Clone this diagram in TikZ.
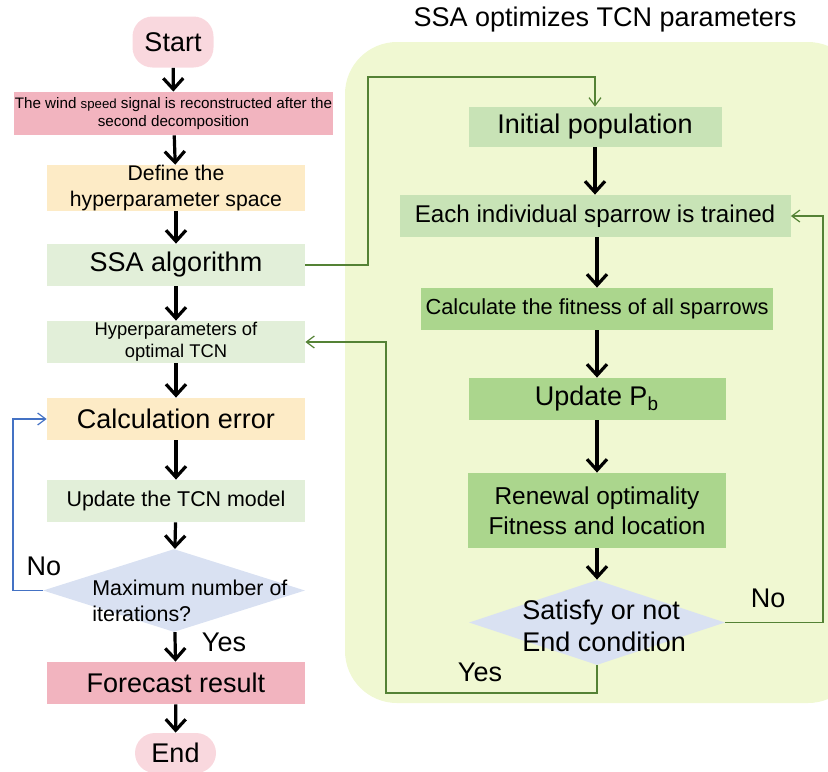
\documentclass[tikz,border=0pt]{standalone}
\usepackage{fontspec}
\setmainfont{Liberation Sans}
\usetikzlibrary{positioning}
\usetikzlibrary{arrows.meta}
\usetikzlibrary{shapes.geometric}
\definecolor{pinkdark}{HTML}{F2B4BF}
\definecolor{pinklight}{HTML}{F9D8DE}
\definecolor{yellowlight}{HTML}{FDEBC6}
\definecolor{greenpale}{HTML}{E2EFD9}
\definecolor{greenlight}{HTML}{C8E3B6}
\definecolor{greenmid}{HTML}{ABD68D}
\definecolor{bluelight}{HTML}{D9E1F2}
\definecolor{groupbg}{HTML}{F0F8D2}
\definecolor{linegreen}{HTML}{548235}
\definecolor{lineblue}{HTML}{4472C4}
\tikzset{
        flowbox/.style={align=center,inner sep=0pt},
        % Start and end
        node_terminal/.style={flowbox, rectangle, rounded corners=10pt, fill=pinklight, minimum width=40.5pt, font=\fontsize{13.5}{16}\selectfont},
        % Process steps
        node_step/.style={flowbox, rectangle, minimum width=129pt, minimum height=21pt},
        % Decisions
        node_decision/.style={diamond, inner sep=0pt, fill=bluelight},
        % Text sizes
        txt_big/.style={font=\fontsize{13.5}{16}\selectfont},
        txt_mid/.style={font=\fontsize{10.7}{13}\selectfont},
        % Connectors
        flow/.style={-{Straight Barb[length=5.5pt,width=10pt]}, line width=1.6pt, black},
        loop_green/.style={-{Straight Barb[length=4pt,width=6pt]}, line width=0.6pt, linegreen},
        loop_blue/.style={-{Straight Barb[length=4pt,width=6pt]}, line width=0.6pt, lineblue}
}
\begin{document}
\begin{tikzpicture}[x=0.5pt, y=-0.5pt]
    \useasboundingbox (0,0) rectangle (828,771);
    % group of the SSA loop
    \fill[groupbg, rounded corners=26pt] (345,42) rectangle (860,703);
    \node[txt_big] (group_title) at (605,20) {SSA optimizes TCN parameters};

    % left column
    \node[node_terminal, minimum height=25.5pt] (start) at (173,42) {Start};
    \node[node_step, fill=pinkdark, minimum width=159.5pt, minimum height=21.5pt,
          font=\fontsize{7.6}{8.6}\selectfont] (wind) at (173.5,113.5)
          {The wind {\fontsize{6.6}{8}\selectfont speed} signal is reconstructed after the\\second decomposition};
    \node[node_step, fill=yellowlight, font=\fontsize{10.6}{13}\selectfont] (define) at (176,188) {Define the\\hyperparameter space};
    \node[node_step, fill=greenpale, txt_big] (ssa) at (176,265) {SSA algorithm};
    \node[node_step, fill=greenpale, font=\fontsize{9.2}{11}\selectfont] (hyper) at (176,342) {Hyperparameters of\\optimal TCN};
    \node[node_step, fill=yellowlight, txt_big] (calc) at (176,419) {Calculation error};
    \node[node_step, fill=greenpale, txt_mid] (update) at (176,501) {Update the TCN model};
    \node[node_decision, minimum width=131pt, minimum height=41.5pt] (maxit) at (174,590.5) {};
    \node[txt_mid, align=left, anchor=west, inner sep=0pt] (maxit_txt) at (92,601) {Maximum number of\\iterations?};
    \node[node_step, fill=pinkdark, txt_big] (forecast) at (176,683) {Forecast result};
    \node[node_terminal, minimum height=20pt] (end) at (175.5,753) {End};

    % right column
    \node[node_step, fill=greenlight, minimum width=126.5pt, minimum height=20pt, txt_big] (init) at (595,127) {Initial population};
    \node[node_step, fill=greenlight, minimum width=195.5pt, font=\fontsize{12.1}{14}\selectfont] (each) at (595,216) {Each individual sparrow is trained};
    \node[node_step, fill=greenmid, minimum width=176pt, font=\fontsize{10.9}{13}\selectfont] (fit) at (597,309) {Calculate the fitness of all sparrows};
    \node[node_step, fill=greenmid, minimum width=128.5pt, txt_big] (pb) at (597,399) {Update P\textsubscript{b}};
    \node[node_step, fill=greenmid, minimum height=37.5pt, font=\fontsize{12.2}{15}\selectfont] (renew) at (597,510.5) {Renewal optimality\\Fitness and location};
    \node[node_decision, minimum width=128pt, minimum height=42.5pt] (satisfy) at (597,622.5) {};
    \node[txt_big, align=left, anchor=west, inner sep=0pt] (satisfy_txt) at (522,626) {Satisfy or not\\End condition};

    % labels
    \node[txt_big] (no_left) at (44,566) {No};
    \node[txt_big] (yes_left) at (224,642) {Yes};
    \node[txt_big] (no_right) at (768,598) {No};
    \node[txt_big] (yes_right) at (480,672) {Yes};

    % main flow
    \draw[flow] (start) -- (wind);
    \draw[flow] (wind) -- (define);
    \draw[flow] (define) -- (ssa);
    \draw[flow] (ssa) -- (hyper);
    \draw[flow] (hyper) -- (calc);
    \draw[flow] (calc) -- (update);
    \draw[flow] (update) -- (maxit);
    \draw[flow] (maxit) -- (forecast);
    \draw[flow] (forecast) -- (end);
    \draw[flow] (init) -- (each);
    \draw[flow] (each.south -| fit) -- (fit);
    \draw[flow] (fit) -- (pb);
    \draw[flow] (pb) -- (renew);
    \draw[flow] (renew) -- (satisfy);

    % loops
    \coordinate (ssa_turn) at (368,77);
    \coordinate (yes_turn) at (386,693);
    \coordinate (no_turn) at (823,622.5);
    \coordinate (err_turn) at (13,590.5);
    \draw[loop_green] (ssa.east) -| (ssa_turn) -| (init.north);
    \draw[loop_green] (satisfy.south) |- (yes_turn) |- (hyper.east);
    \draw[loop_green] (satisfy.east) -- (no_turn) |- (each.east);
    \draw[loop_blue] (maxit.west) -- (err_turn) |- (calc.west);
\end{tikzpicture}
\end{document}
